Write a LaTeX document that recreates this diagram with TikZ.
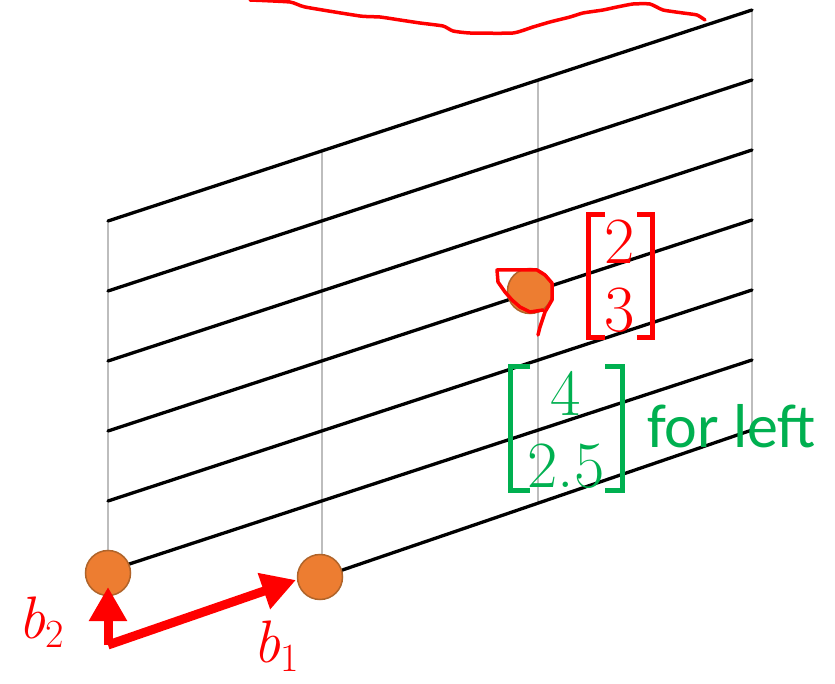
\documentclass[tikz,border=0pt]{standalone}
\usepackage{fontspec}
\newfontfamily\calib{Carlito}
\usetikzlibrary{arrows.meta}
\definecolor{dotfill}{HTML}{ED7D31}
\definecolor{dotedge}{HTML}{B0642A}
\definecolor{gridgrey}{HTML}{BDBDBD}
\definecolor{penred}{HTML}{FF0000}
\definecolor{pengreen}{HTML}{00B050}
\newcommand{\vecsub}[1]{\raisebox{-0.16em}{\fontsize{40}{40}\selectfont\upshape #1}}
\begin{document}
\begin{tikzpicture}[x=1pt,y=-1pt,
  gridline/.style={gridgrey, line width=1.5pt},
  wire/.style={black, line width=3.3pt, line cap=round},
  dot/.style={circle, fill=dotfill, draw=dotedge, line width=1.5pt, minimum size=45pt, inner sep=0pt},
  vec/.style={penred, line width=9pt, -{Triangle[length=34pt,width=36pt]}},
  scrib/.style={penred, line width=3.5pt, line cap=round, line join=round},
  brk/.style={line width=5pt, line cap=butt, line join=miter},
  digit/.style={inner sep=0pt, font=\fontsize{66}{66}\selectfont},
  vlabel/.style={inner sep=0pt, anchor=base west, penred, font=\fontsize{60}{60}\selectfont\itshape}]
\path[use as bounding box, fill=white] (0,0) rectangle (835,684);
% grey verticals
\draw[gridline] (108,221) -- (108,571);
\draw[gridline] (322,151) -- (322,577);
\draw[gridline] (538,80) -- (538,503);
\draw[gridline] (752,10) -- (752,430);
% black sheared lines
\foreach \i in {0,...,5}{
  \draw[wire] (108,{221+70*\i}) -- (752,{10+70*\i});
}
\draw[wire] (322,577) -- (752,430);
% top red scribble
\draw[scrib] plot[smooth, tension=0.3] coordinates {(250,0) (290,2) (305,7) (360,16) (380,17) (400,20) (420,23) (443,26) (453,31) (470,33) (513,33) (533,27) (550,22) (570,17) (583,13) (603,10) (617,7) (633,4) (650,4) (663,10) (683,13) (697,15) (705,20)};
% points
\node[dot] (p0) at (108,573) {};
\node[dot] (p1) at (320,577) {};
\node[dot] (p23) at (530,291) {};
% scribble around the point
\draw[scrib] (538,335) -- (540,327) -- (545,312) -- (552,300) -- (552,283) -- (545,275) -- (537,270) -- (497,270) -- (498,282) -- (505,292) -- (512,300) -- (520,307) -- (530,312) -- (543,310);
% basis vectors
\coordinate (o) at (108,645);
\coordinate (t2) at (108,587);
\coordinate (t1) at (296,580);
\draw[vec] (o) -- (t2);
\draw[vec] (o) -- (t1);
\node[vlabel] (lb2) at (18,638) {b\vecsub{2}};
\node[vlabel] (lb1) at (253,662) {b\vecsub{1}};
% red coordinates
\draw[brk, penred] (605,215) -- (588,215) -- (588,338) -- (605,338);
\draw[brk, penred] (637,215) -- (652,215) -- (652,338) -- (637,338);
\node[digit, penred] (r2) at (620,242) {2};
\node[digit, penred] (r3) at (620,310) {3};
% green coordinates
\draw[brk, pengreen] (530,367) -- (510,367) -- (510,490) -- (530,490);
\draw[brk, pengreen] (605,367) -- (622,367) -- (622,490) -- (605,490);
\node[digit, pengreen] (g4) at (566,393) {4};
\node[digit, pengreen] (g25) at (566,466) {2.5};
\node[inner sep=0pt, anchor=base west, pengreen, font=\calib\fontsize{62}{62}\selectfont] (fl) at (647,447) {for left};
\end{tikzpicture}
\end{document}
